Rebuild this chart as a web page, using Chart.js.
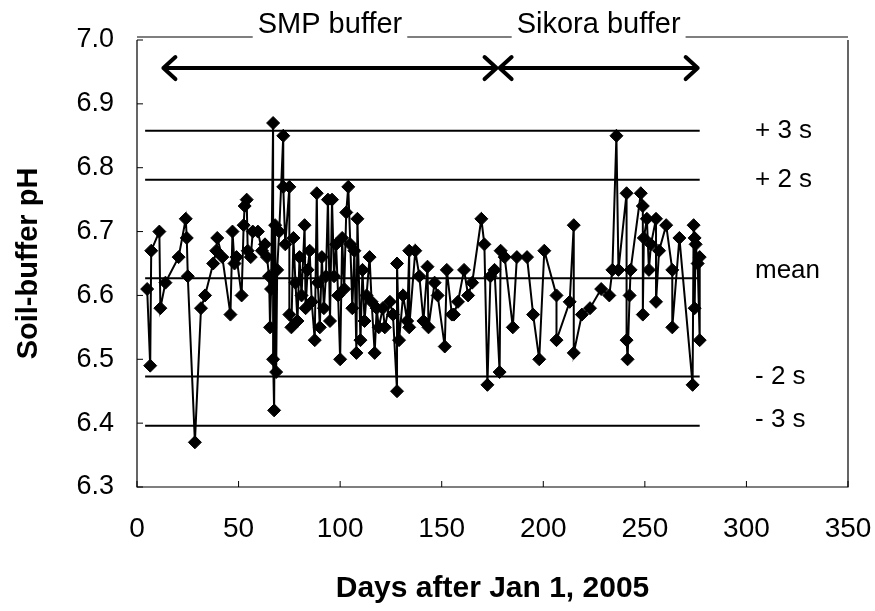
<!DOCTYPE html>
<html>
<head>
<meta charset="utf-8">
<script src="https://cdn.jsdelivr.net/npm/chart.js@4/dist/chart.umd.min.js"></script>
<style>
  html, body { margin: 0; padding: 0; background: #fff; }
  #wrap { width: 875px; height: 611px; }
</style>
</head>
<body>
<div id="wrap"><canvas id="phChart" width="875" height="611"></canvas></div>
<script>
// days after Jan 1, 2005 and the soil-buffer pH read on that day
const days = [
  5, 6.5, 7, 11, 11.5, 14, 20.5, 24, 24.5, 25, 28.5, 31.5, 33.5, 37.5, 39, 39.5, 42, 46, 47, 48,
  49, 51.5, 52.5, 53, 54, 54.5, 56, 57, 59.5, 61.5, 63, 64, 65, 65.5, 66, 67, 67, 67.5, 68, 68.5,
  69, 70, 72, 72, 73, 75, 75, 76, 77, 78, 79, 80, 81, 82.5, 83, 84, 85, 86, 87.5, 88.5,
  89, 90, 91, 92, 93, 94, 95, 96, 97, 98, 99, 100, 101, 102, 103, 104, 105, 106, 107, 108,
  108.5, 110, 111, 112, 113, 114.5, 115.5, 117, 118, 119, 121, 122, 124.5, 126, 128, 128, 129, 131, 133, 134,
  134, 137, 139, 141, 143, 143.5, 146.5, 148, 151.5, 152.5, 155, 156, 158, 161, 163, 165, 169.5, 171, 172.5, 174,
  176, 178.5, 179, 181, 185, 187, 192, 195, 198, 200.5, 206.5, 206.5, 213, 215, 215, 219, 223, 228.5, 232.5, 234,
  236, 237, 241, 241, 241.5, 242.5, 243, 248, 249, 249, 249.5, 251, 252, 253, 255.5, 255.5, 257, 260.5, 263.5, 263.5,
  267, 273.5, 274, 274.5, 274.5, 275, 276, 277, 277
];
const pH = [
  6.61, 6.49, 6.67, 6.70, 6.58, 6.62, 6.66, 6.72, 6.69, 6.63, 6.37, 6.58, 6.60, 6.65, 6.67, 6.69, 6.66, 6.57, 6.70, 6.65,
  6.66, 6.60, 6.71, 6.74, 6.75, 6.67, 6.66, 6.70, 6.70, 6.67, 6.68, 6.66, 6.63, 6.55, 6.61, 6.87, 6.50, 6.42, 6.71, 6.48,
  6.64, 6.70, 6.85, 6.77, 6.68, 6.77, 6.57, 6.55, 6.69, 6.62, 6.56, 6.66, 6.60, 6.71, 6.58, 6.64, 6.67, 6.59, 6.53, 6.76,
  6.62, 6.55, 6.66, 6.58, 6.63, 6.75, 6.56, 6.75, 6.63, 6.68, 6.60, 6.50, 6.69, 6.61, 6.73, 6.77, 6.68, 6.58, 6.67, 6.51,
  6.72, 6.53, 6.64, 6.56, 6.60, 6.66, 6.59, 6.51, 6.58, 6.55, 6.58, 6.55, 6.59, 6.57, 6.45, 6.65, 6.53, 6.60, 6.56, 6.67,
  6.55, 6.67, 6.63, 6.56, 6.645, 6.55, 6.62, 6.60, 6.52, 6.64, 6.57, 6.57, 6.59, 6.64, 6.60, 6.62, 6.72, 6.68, 6.46, 6.63,
  6.64, 6.48, 6.67, 6.66, 6.55, 6.66, 6.66, 6.57, 6.50, 6.67, 6.60, 6.53, 6.59, 6.71, 6.51, 6.57, 6.58, 6.61, 6.60, 6.64,
  6.85, 6.64, 6.76, 6.53, 6.50, 6.60, 6.64, 6.76, 6.74, 6.57, 6.69, 6.72, 6.64, 6.68, 6.72, 6.59, 6.67, 6.71, 6.64, 6.55,
  6.69, 6.46, 6.71, 6.69, 6.58, 6.68, 6.65, 6.53, 6.66
];

// control lines: +3s, +2s, mean, -2s, -3s
const refNames = ['+ 3 s', '+ 2 s', 'mean', '- 2 s', '- 3 s'];
const refLevels = [6.858, 6.781, 6.627, 6.473, 6.396];
const refSpan = [4, 277];

// buffer periods shown by the arrows at the top
const bufferNames = ['SMP buffer', 'Sikora buffer'];
const bufferSpans = [[13, 177], [178.5, 276]];
const arrowLevel = 6.956;

const xTicks = [0, 50, 100, 150, 200, 250, 300, 350];
const yTicks = [6.3, 6.4, 6.5, 6.6, 6.7, 6.8, 6.9, 7.0];

const FONT = '"Liberation Sans", Arial, sans-serif';

const refSets = refLevels.map(v => ({
  data: [{ x: refSpan[0], y: v }, { x: refSpan[1], y: v }],
  borderColor: '#000',
  borderWidth: 2,
  pointRadius: 0,
  showLine: true,
  order: 2
}));

const extras = {
  id: 'extras',
  afterDraw(chart) {
    const c = chart.ctx;
    const a = chart.chartArea;
    const xs = chart.scales.x, ys = chart.scales.y;
    c.save();
    c.strokeStyle = '#000';
    c.fillStyle = '#000';

    // frame, top edge broken by the buffer titles
    c.lineWidth = 1.2;
    c.beginPath();
    c.moveTo(a.left, a.top); c.lineTo(a.left, a.bottom);
    c.lineTo(a.right, a.bottom); c.lineTo(a.right, a.top);
    c.stroke();
    c.font = '29px ' + FONT;
    c.textBaseline = 'alphabetic';
    const titleCenters = bufferSpans.map(s => (xs.getPixelForValue(s[0]) + xs.getPixelForValue(s[1])) / 2);
    let edges = [a.left];
    bufferNames.forEach((name, i) => {
      const w = c.measureText(name).width;
      c.textAlign = 'center';
      c.fillText(name, titleCenters[i], a.top - 7);
      edges.push(titleCenters[i] - w / 2 - 5, titleCenters[i] + w / 2 + 5);
    });
    edges.push(a.right);
    c.beginPath();
    for (let i = 0; i < edges.length; i += 2) {
      c.moveTo(edges[i], a.top - 3); c.lineTo(edges[i + 1], a.top - 3);
    }
    c.stroke();

    // inward tick marks
    c.lineWidth = 1;
    c.beginPath();
    xTicks.forEach(t => {
      const px = xs.getPixelForValue(t);
      c.moveTo(px, a.bottom); c.lineTo(px, a.bottom - 6);
    });
    yTicks.forEach(t => {
      const py = ys.getPixelForValue(t);
      c.moveTo(a.left, py); c.lineTo(a.left + 6, py);
    });
    c.stroke();

    // double arrows
    const ay = ys.getPixelForValue(arrowLevel);
    c.lineWidth = 4;
    c.lineCap = 'round';
    c.lineJoin = 'round';
    bufferSpans.forEach(s => {
      const x0 = xs.getPixelForValue(s[0]), x1 = xs.getPixelForValue(s[1]);
      c.beginPath();
      c.moveTo(x0, ay); c.lineTo(x1, ay);
      c.moveTo(x0 + 12, ay - 11); c.lineTo(x0, ay); c.lineTo(x0 + 12, ay + 11);
      c.moveTo(x1 - 12, ay - 11); c.lineTo(x1, ay); c.lineTo(x1 - 12, ay + 11);
      c.stroke();
    });

    // control line names on the right
    c.font = '26px ' + FONT;
    c.textAlign = 'left';
    c.textBaseline = 'middle';
    refNames.forEach((n, i) => {
      let py = ys.getPixelForValue(refLevels[i]);
      if (n === 'mean') py -= 7;
      if (n === '- 3 s') py -= 6;
      c.fillText(n, 755, py);
    });
    c.restore();
  }
};

new Chart(document.getElementById('phChart'), {
  type: 'scatter',
  data: {
    datasets: [{
      data: days.map((d, i) => ({ x: d, y: pH[i] })),
      showLine: true,
      borderColor: '#000',
      borderWidth: 2,
      backgroundColor: '#000',
      pointStyle: 'rectRot',
      pointRadius: 6.5,
      pointBorderWidth: 1,
      order: 1
    }, ...refSets]
  },
  options: {
    responsive: false,
    animation: false,
    layout: { padding: { top: 40, right: 27, left: 0, bottom: 0 } },
    plugins: { legend: { display: false }, tooltip: { enabled: false } },
    scales: {
      x: {
        type: 'linear',
        min: 0, max: 350,
        afterBuildTicks: s => { s.ticks = xTicks.map(v => ({ value: v })); },
        afterFit: s => { s.height = 124; s.paddingLeft = 0; s.paddingRight = 0; },
        grid: { display: false },
        border: { display: false },
        ticks: { color: '#000', font: { family: FONT, size: 28 }, padding: 17 },
        title: { display: true, text: 'Days after Jan 1, 2005', color: '#000',
                 font: { family: FONT, size: 30, weight: 'bold' }, padding: { top: 0, bottom: 4 } }
      },
      y: {
        min: 6.3, max: 7.0,
        afterBuildTicks: s => { s.ticks = yTicks.map(v => ({ value: v })); },
        afterFit: s => { s.width = 137; s.paddingTop = 0; s.paddingBottom = 0; },
        grid: { display: false },
        border: { display: false },
        ticks: { color: '#000', font: { family: FONT, size: 27 }, padding: 15,
                 callback: v => v.toFixed(1) },
        title: { display: true, text: 'Soil-buffer pH', color: '#000',
                 font: { family: FONT, size: 29, weight: 'bold' }, padding: { top: 12, bottom: 0 } }
      }
    }
  },
  plugins: [extras]
});
</script>
</body>
</html>
